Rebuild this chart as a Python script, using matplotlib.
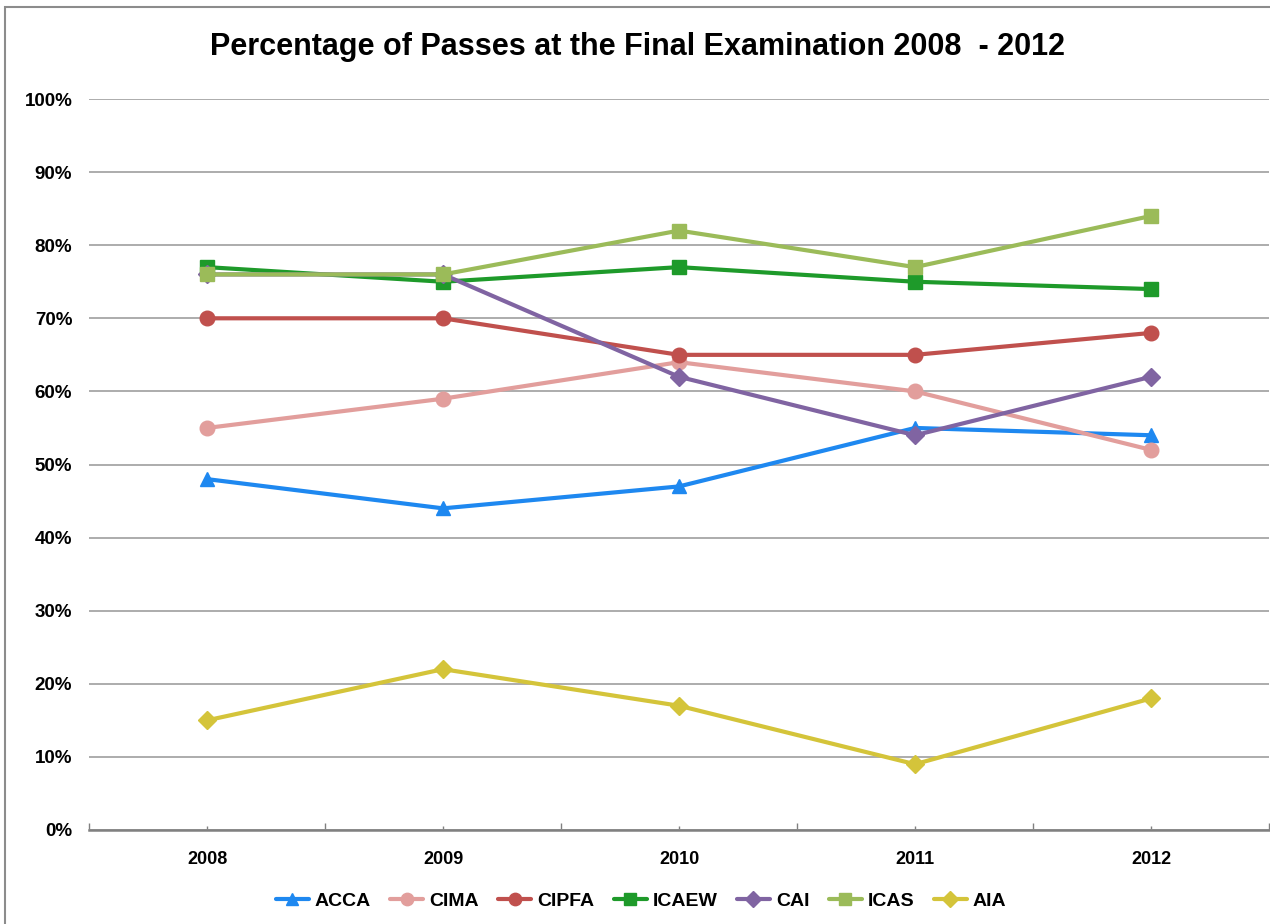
import matplotlib
matplotlib.use("Agg")
import matplotlib.pyplot as plt
from matplotlib.patches import Rectangle
from matplotlib.ticker import FixedLocator, FuncFormatter

years = ["2008", "2009", "2010", "2011", "2012"]
acca = [48, 44, 47, 55, 54]
cima = [55, 59, 64, 60, 52]
cipfa = [70, 70, 65, 65, 68]
icaew = [77, 75, 77, 75, 74]
cai = [76, 76, 62, 54, 62]
icas = [76, 76, 82, 77, 84]
aia = [15, 22, 17, 9, 18]

series = [
    ("ACCA", acca, "#1E88F0", "^", 10.5),
    ("CIMA", cima, "#E29E9C", "o", 10.5),
    ("CIPFA", cipfa, "#C0504D", "o", 10.5),
    ("ICAEW", icaew, "#1E9A2A", "s", 10.5),
    ("CAI", cai, "#8064A2", "D", 9),
    ("ICAS", icas, "#9BBB59", "s", 10.5),
    ("AIA", aia, "#D4C43A", "D", 9),
]

plt.rcParams['font.family'] = ['Liberation Sans', 'DejaVu Sans']

W, H = 1270, 924
fig = plt.figure(figsize=(W / 100, H / 100), dpi=100)
ax = fig.add_axes([89 / W, 1 - 830 / H, (1269 - 89) / W, (830 - 99) / H])

x = list(range(len(years)))
for i, (name, vals, col, mk, ms) in enumerate(series):
    ax.plot(x, vals, color=col, lw=3, marker=mk, ms=ms, mfc=col, mec=col,
            label=name, zorder=3 + i, solid_capstyle="round")

ax.set_xlim(-0.5, len(years) - 0.5)
ax.set_ylim(0, 100)
ax.yaxis.set_major_locator(FixedLocator(range(0, 101, 10)))
ax.yaxis.set_major_formatter(FuncFormatter(lambda v, p: f"{int(v)}%"))
ax.grid(axis="y", color="#A6A6A6", lw=1.3, zorder=0)
ax.set_axisbelow(True)

ax.set_xticks(x)
ax.set_xticklabels(years)
ax.set_xticks([i - 0.5 for i in range(len(years) + 1)], minor=True)
ax.tick_params(axis="x", which="major", direction="in", length=3, width=1,
               color="#808080", pad=15, labelsize=13)
ax.tick_params(axis="x", which="minor", direction="in", length=5, width=1,
               color="#808080")
ax.tick_params(axis="y", length=0, pad=12, labelsize=13.5)
for lab in ax.get_xticklabels() + ax.get_yticklabels():
    lab.set_fontweight("bold")

for s in ("left", "right", "top"):
    ax.spines[s].set_visible(False)
ax.spines["bottom"].set_color("#808080")
ax.spines["bottom"].set_linewidth(1.8)

fig.text(637 / W, 1 - 47 / H, "Percentage of Passes at the Final Examination 2008  - 2012",
         ha="center", va="center", fontsize=22, fontweight="bold")

leg = fig.legend(loc="center", bbox_to_anchor=(641 / W, 1 - 901 / H), ncol=7,
                 frameon=False, prop={"weight": "bold", "size": 14},
                 handlelength=1.7, handletextpad=0.3, columnspacing=1.0,
                 markerscale=0.85)

fig.add_artist(Rectangle((5 / W, -0.01), 1.2, 1 - 7 / H + 0.01,
                         transform=fig.transFigure, fill=False,
                         edgecolor="#8C8C8C", lw=1.5))

fig.savefig("out.png", dpi=100)
